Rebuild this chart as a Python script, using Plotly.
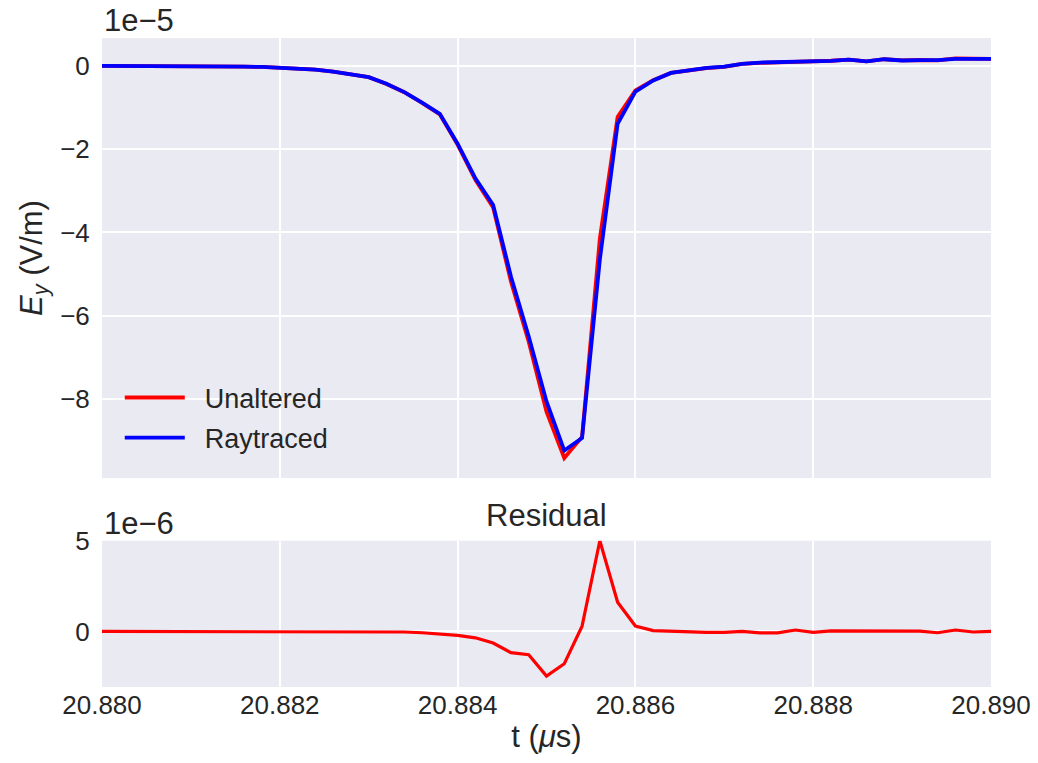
import plotly.graph_objects as go
from plotly.subplots import make_subplots

# time axis: 51 samples, 0.0002 µs apart (20.880 .. 20.890)
t_start = 20.880
t_step = 0.0002
n_samples = 51
t = [round(t_start + i * t_step, 4) for i in range(n_samples)]

# E_y in units of 1e-5 V/m
raytraced = [0.000, 0.000, 0.000, -0.002, -0.005, -0.008, -0.010, -0.015, -0.020, -0.025,
             -0.040, -0.060, -0.090, -0.140, -0.200, -0.270, -0.430, -0.630, -0.880, -1.150,
             -1.870, -2.700, -3.340, -5.060, -6.500, -8.060, -9.240, -8.940, -4.650, -1.390,
             -0.620, -0.350, -0.170, -0.100, -0.050, -0.020, 0.050, 0.080, 0.090, 0.090,
             0.100, 0.120, 0.150, 0.110, 0.160, 0.130, 0.140, 0.140, 0.170, 0.170, 0.170]

unaltered = [0.000, 0.000, 0.000, -0.002, -0.005, -0.008, -0.010, -0.015, -0.020, -0.025,
             -0.040, -0.060, -0.090, -0.140, -0.201, -0.272, -0.433, -0.633, -0.887, -1.163,
             -1.892, -2.735, -3.404, -5.177, -6.628, -8.306, -9.418, -8.911, -4.150, -1.229,
             -0.590, -0.345, -0.168, -0.105, -0.055, -0.025, 0.050, 0.072, 0.082, 0.098,
             0.095, 0.123, 0.152, 0.111, 0.160, 0.132, 0.142, 0.133, 0.178, 0.167, 0.170]

# residual in units of 1e-6 V/m
residual = [round((u - r) * 10, 4) for u, r in zip(unaltered, raytraced)]

x_ticks = [20.880, 20.882, 20.884, 20.886, 20.888, 20.890]
top_y_ticks = [0, -2, -4, -6, -8]
bottom_y_ticks = [0, 5]

FONT = "Liberation Sans, Arial, sans-serif"
TXT = "#262626"
BG = "#EAEAF2"
NB = "\u00a0\u00a0"

fig = make_subplots(rows=2, cols=1, shared_xaxes=False)

fig.add_trace(go.Scatter(x=t, y=unaltered, mode="lines", name=NB + "Unaltered",
                         line=dict(color="#FF0000", width=3.8), legendgroup="a"), row=1, col=1)
fig.add_trace(go.Scatter(x=t, y=raytraced, mode="lines", name=NB + "Raytraced",
                         line=dict(color="#0000FF", width=3.8), legendgroup="b"), row=1, col=1)
fig.add_trace(go.Scatter(x=t, y=residual, mode="lines", name="Residual",
                         line=dict(color="#FF0000", width=3.2), showlegend=False), row=2, col=1)

axis_common = dict(showline=False, zeroline=False, showgrid=True, gridcolor="white",
                   gridwidth=2, tickcolor="rgba(0,0,0,0)", automargin=False,
                   tickfont=dict(family=FONT, size=26, color=TXT))

fig.update_xaxes(range=[20.880, 20.890], tickvals=x_ticks, tickformat=".3f",
                 showticklabels=False, domain=[0, 1], ticks="", row=1, col=1, **axis_common)
fig.update_xaxes(range=[20.880, 20.890], tickvals=x_ticks, tickformat=".3f",
                 showticklabels=True, domain=[0, 1], row=2, col=1,
                 ticks="",
                 title=dict(text="t (<i>μ</i>s)", font=dict(family=FONT, size=31, color=TXT),
                            standoff=6),
                 **axis_common)
fig.update_yaxes(range=[-9.90, 0.67], tickvals=top_y_ticks, domain=[0.322, 1.0], row=1, col=1,
                 ticks="outside", ticklen=6,
                 title=dict(text="<i>E</i><sub><i>y</i></sub> (V/m)",
                            font=dict(family=FONT, size=31, color=TXT), standoff=8),
                 **axis_common)
fig.update_yaxes(range=[-3.06, 5.0], tickvals=bottom_y_ticks, domain=[0.0, 0.2254], row=2, col=1,
                 ticks="outside", ticklen=6,
                 **axis_common)

fig.update_layout(
    width=1038, height=763,
    margin=dict(l=102, r=47, t=38, b=76, autoexpand=False),
    paper_bgcolor="white", plot_bgcolor=BG,
    font=dict(family=FONT, color=TXT),
    showlegend=True,
    legend=dict(x=0.020, y=0.346, xanchor="left", yanchor="bottom",
                bgcolor="rgba(0,0,0,0)", font=dict(family=FONT, size=27, color=TXT),
                itemwidth=60, tracegroupgap=2),
    annotations=[
        dict(text="1e\u22125", xref="paper", yref="paper", x=0.0, y=1.0, xanchor="left",
             yanchor="bottom", showarrow=False, yshift=-2,
             font=dict(family=FONT, size=31, color=TXT)),
        dict(text="1e\u22126", xref="paper", yref="paper", x=0.0, y=0.2254, xanchor="left",
             yanchor="bottom", showarrow=False, yshift=-2,
             font=dict(family=FONT, size=31, color=TXT)),
        dict(text="Residual", xref="paper", yref="paper", x=0.5, y=0.2254, xanchor="center",
             yanchor="bottom", showarrow=False, yshift=6,
             font=dict(family=FONT, size=31, color=TXT)),
    ],
)

fig.write_html(
    "out.html",
    config={"displayModeBar": False},
    post_script=("document.body.style.margin='0';"
                 "document.body.style.overflow='hidden';"
                 "document.documentElement.style.overflow='hidden';"),
)
